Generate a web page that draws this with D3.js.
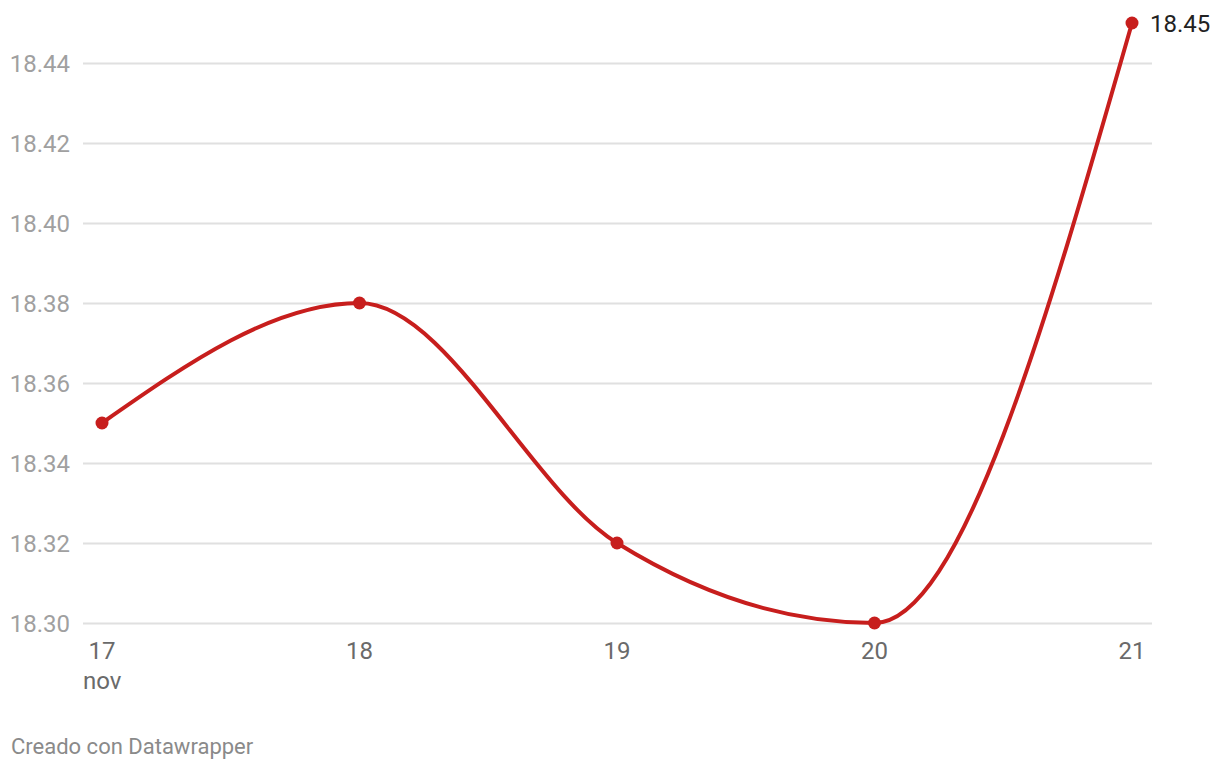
<!DOCTYPE html>
<html><head><meta charset="utf-8">
<script src="https://cdn.jsdelivr.net/npm/d3@7"></script>
<style>
html,body{margin:0;padding:0;background:#fff;}
svg{display:block;font-family:Roboto, sans-serif;}
</style></head>
<body><svg id="chart" width="1220" height="770"></svg>
<script>
const days = [17, 18, 19, 20, 21];
const values = [18.35, 18.38, 18.32, 18.30, 18.45];
const yTicks = [18.30, 18.32, 18.34, 18.36, 18.38, 18.40, 18.42, 18.44];
const xTickLabels = ["17", "18", "19", "20", "21"];
const monthLabel = "nov";
const lastLabel = "18.45";
const credit = "Creado con Datawrapper";

const svg = d3.select("#chart");
const x = d3.scaleLinear().domain([17, 21]).range([102, 1132]);
const y = d3.scaleLinear().domain([18.30, 18.44]).range([623, 63]);

// gridlines
svg.append("g").selectAll("line").data(yTicks).join("line")
  .attr("x1", 83).attr("x2", 1152)
  .attr("y1", d => Math.round(y(d)) + 0.5).attr("y2", d => Math.round(y(d)) + 0.5)
  .attr("stroke", "#e0e0e0").attr("stroke-width", 2);

// y labels
svg.append("g").selectAll("text").data(yTicks).join("text")
  .attr("x", 70).attr("y", d => y(d)).attr("dy", "0.36em")
  .attr("text-anchor", "end").attr("fill", "#a0a0a0")
  .style("font-size", "24px")
  .text(d => d3.format(".2f")(d));

// x labels
svg.append("g").selectAll("text").data(days).join("text")
  .attr("x", d => x(d)).attr("y", 659)
  .attr("text-anchor", "middle").attr("fill", "#6a6a6a")
  .style("font-size", "24px")
  .text((d, i) => xTickLabels[i]);
svg.append("text").attr("x", 83).attr("y", 689)
  .attr("fill", "#6a6a6a").style("font-size", "24px").text(monthLabel);

// line
const line = d3.line().x((d, i) => x(days[i])).y(d => y(d)).curve(d3.curveMonotoneX);
svg.append("path").datum(values).attr("d", line)
  .attr("fill", "none").attr("stroke", "#c71e1d").attr("stroke-width", 4);

svg.append("g").selectAll("circle").data(values).join("circle")
  .attr("cx", (d, i) => x(days[i])).attr("cy", d => y(d)).attr("r", 6.5)
  .attr("fill", "#c71e1d");

svg.append("text").attr("x", x(21) + 18).attr("y", y(values[4])).attr("dy", "0.36em")
  .attr("fill", "#222").style("font-size", "24px").text(lastLabel);

svg.append("text").attr("x", 11).attr("y", 754)
  .attr("fill", "#8a8a8a").style("font-size", "22px").text(credit);
</script></body></html>
